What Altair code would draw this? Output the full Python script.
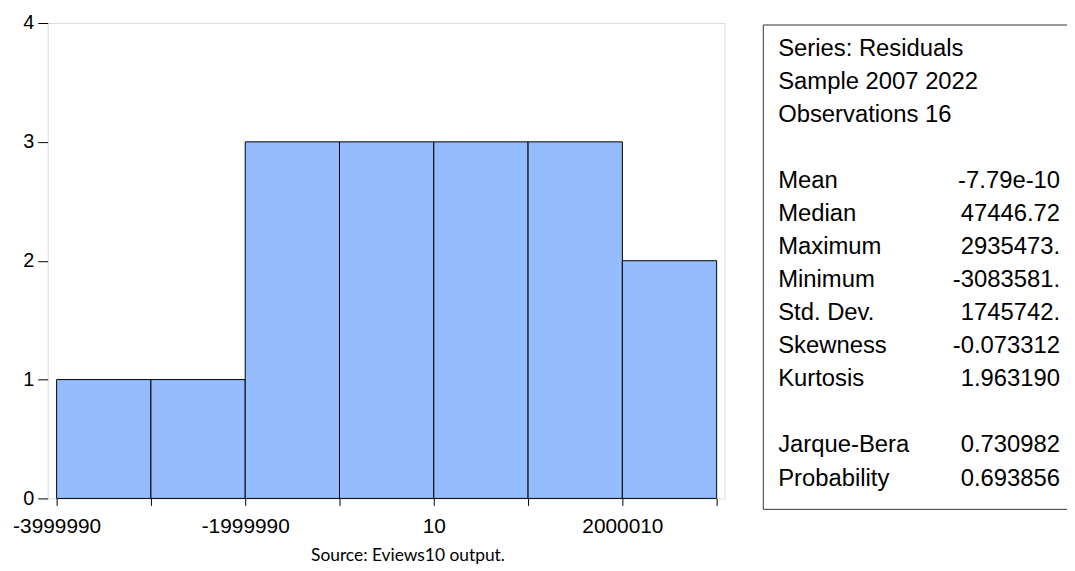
import altair as alt
import pandas as pd

# Histogram bins (residuals) and counts
bin_start = [-3999990, -2999990, -1999990, -999990, 10, 1000010, 2000010]
bin_end = [-2999990, -1999990, -999990, 10, 1000010, 2000010, 3000010]
counts = [1, 1, 3, 3, 3, 3, 2]

x_ticks = [-3999990, -2999990, -1999990, -999990, 10, 1000010, 2000010, 3000010]
x_domain = [-4094727, 3084220]
y_ticks = [0, 1, 2, 3, 4]

# Statistics panel
stat_labels = ["Series: Residuals", "Sample 2007 2022", "Observations 16",
               "Mean", "Median", "Maximum", "Minimum", "Std. Dev.",
               "Skewness", "Kurtosis", "Jarque-Bera", "Probability"]
stat_values = ["", "", "",
               "-7.79e-10", "47446.72", "2935473.", "-3083581.", "1745742.",
               "-0.073312", "1.963190", "0.730982", "0.693856"]
stat_rows = [0, 1, 2, 4, 5, 6, 7, 8, 9, 10, 12, 13]

source_note = ["Source: Eviews10 output."]

hist_df = pd.DataFrame({"start": bin_start, "end": bin_end, "count": counts})
stats_df = pd.DataFrame({"label": stat_labels, "value": stat_values, "row": stat_rows})
note_df = pd.DataFrame({"note": source_note})

FONT = "Arial, Liberation Sans, sans-serif"
W, H = 682, 479

bars = alt.Chart(hist_df).mark_bar(
    color="#95BDFD", stroke="#000000", strokeWidth=1, orient="vertical"
).encode(
    x=alt.X("start:Q", scale=alt.Scale(domain=x_domain, nice=False, zero=False, padding=0),
            axis=alt.Axis(values=x_ticks, title=None, grid=False, domain=False,
                          tickColor="#000", tickSize=7, tickWidth=1,
                          labelFont=FONT, labelFontSize=21, labelColor="#000",
                          labelPadding=10, labelFlush=False, labelOverlap=False,
                          labelExpr="(datum.value + 3999990) % 2000000 == 0 ? '' + datum.value : ''")),
    x2="end:Q",
    y=alt.Y("count:Q", scale=alt.Scale(domain=[0, 4], nice=False, padding=0),
            axis=alt.Axis(values=y_ticks, title=None, grid=False, domain=False,
                          tickColor="#000", tickSize=10, tickWidth=1,
                          labelFont=FONT, labelFontSize=20, labelColor="#000",
                          labelPadding=4, format="d")),
    y2=alt.datum(0),
)

box = alt.Chart(note_df).mark_rect(
    fill="white", stroke="#333333", strokeWidth=1
).encode(
    x=alt.value(721), x2=alt.value(1060), y=alt.value(2), y2=alt.value(490)
)

row_scale = alt.Scale(domain=[0, 13], range=[26, 459])

stat_text = alt.Chart(stats_df).mark_text(
    align="left", baseline="middle", font=FONT, fontSize=24, color="#000"
).encode(
    x=alt.value(736),
    y=alt.Y("row:Q", scale=row_scale, axis=None),
    text="label:N",
)

stat_vals = alt.Chart(stats_df).mark_text(
    align="right", baseline="middle", font=FONT, fontSize=24, color="#000"
).encode(
    x=alt.value(1020),
    y=alt.Y("row:Q", scale=row_scale, axis=None),
    text="value:N",
)

note = alt.Chart(note_df).mark_text(
    align="center", baseline="middle", font="Lato", fontSize=17.5, color="#000"
).encode(
    x=alt.value(363), y=alt.value(537), text="note:N"
)

chart = alt.layer(bars, box, stat_text, stat_vals, note).resolve_scale(
    y="independent"
).properties(
    width=W, height=H,
    autosize=alt.AutoSizeParams(type="none"),
    padding={"left": 40, "top": 13, "right": 345, "bottom": 71},
).configure_view(
    stroke="#000000", strokeWidth=2
).configure(background="white")

chart.save("out.html", embed_options={"renderer": "svg", "actions": False})
